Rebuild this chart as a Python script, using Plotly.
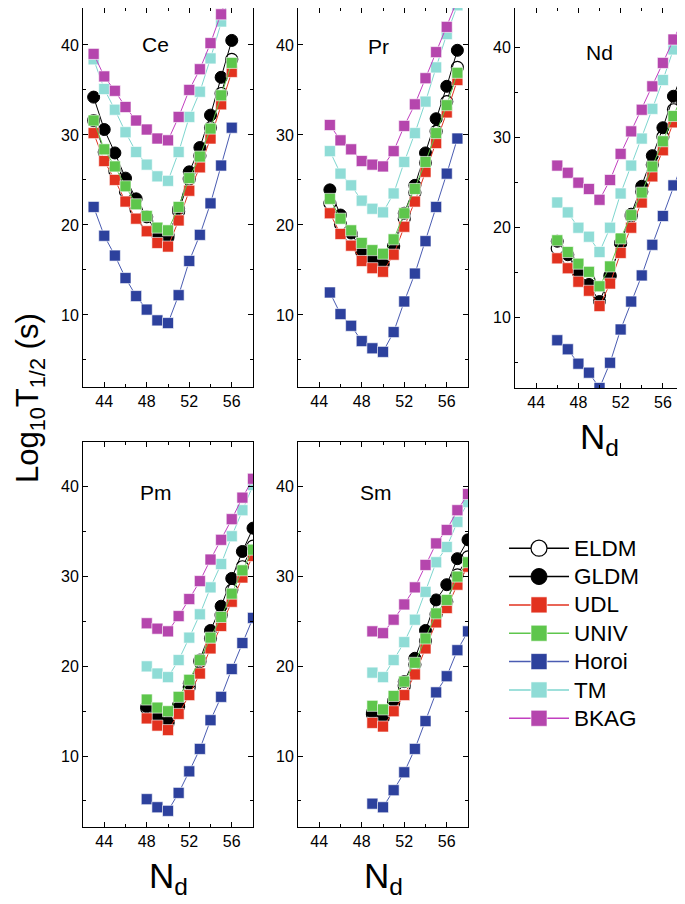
import plotly.graph_objects as go

# neutron numbers of the daughter nucleus for each emitter
n_ce = [43, 44, 45, 46, 47, 48, 49, 50, 51, 52, 53, 54, 55, 56]
n_pr = [45, 46, 47, 48, 49, 50, 51, 52, 53, 54, 55, 56, 57]
n_nd = [46, 47, 48, 49, 50, 51, 52, 53, 54, 55, 56, 57, 58]
n_pm = [48, 49, 50, 51, 52, 53, 54, 55, 56, 57, 58]
n_sm = [49, 50, 51, 52, 53, 54, 55, 56, 57, 58]

# log10 T1/2 (s)
ce_eldm = [31.6, 28.1, 26.0, 23.7, 21.7, 20.3, 19.0, 18.9, 21.5, 25.1, 27.7, 30.8, 34.6, 38.4]
ce_gldm = [34.2, 30.6, 28.0, 25.2, 22.9, 20.9, 19.1, 18.6, 21.8, 25.9, 28.6, 32.2, 36.4, 40.5]
ce_udl = [30.2, 27.1, 25.0, 22.6, 20.7, 19.3, 18.0, 17.6, 20.5, 23.8, 26.4, 29.6, 33.4, 37.0]
ce_univ = [31.6, 28.4, 26.5, 24.3, 22.3, 21.0, 19.7, 19.4, 22.0, 25.2, 27.6, 30.7, 34.4, 38.0]
ce_horoi = [22.0, 18.8, 16.6, 14.1, 12.1, 10.6, 9.4, 9.1, 12.2, 16.0, 18.9, 22.4, 26.6, 30.8]
ce_tm = [38.4, 35.1, 32.8, 30.3, 28.1, 26.7, 25.4, 24.9, 28.1, 32.0, 34.8, 38.5, 42.6, 46.4]
ce_bkag = [39.0, 36.5, 34.9, 33.1, 31.6, 30.6, 29.6, 29.4, 32.0, 35.0, 37.3, 40.2, 43.4, 46.8]

pr_eldm = [22.4, 20.1, 18.7, 17.0, 16.2, 15.7, 17.6, 20.7, 23.6, 26.9, 30.4, 33.7, 37.5]
pr_gldm = [23.9, 21.1, 19.1, 17.2, 16.2, 15.6, 17.7, 21.3, 24.4, 28.0, 31.8, 35.4, 39.4]
pr_udl = [21.3, 19.0, 17.7, 16.0, 15.2, 14.8, 16.7, 19.8, 22.6, 25.9, 29.1, 32.5, 36.1]
pr_univ = [22.9, 20.7, 19.4, 18.0, 17.2, 16.8, 18.4, 21.3, 24.0, 27.0, 30.2, 33.3, 36.9]
pr_horoi = [12.5, 10.1, 8.8, 7.1, 6.3, 5.9, 8.1, 11.5, 14.6, 18.2, 22.0, 25.7, 29.6]
pr_tm = [28.2, 25.7, 24.4, 22.7, 21.8, 21.4, 23.5, 27.0, 30.2, 33.7, 37.5, 41.2, 44.4]
pr_bkag = [31.1, 29.4, 28.4, 27.1, 26.7, 26.5, 28.2, 31.0, 33.4, 36.3, 39.2, 42.0, 45.0]

nd_eldm = [17.7, 16.6, 15.1, 14.2, 12.5, 14.7, 18.3, 21.3, 24.0, 27.0, 30.1, 33.1, 35.7]
nd_gldm = [18.5, 17.0, 15.0, 13.7, 11.8, 14.6, 18.3, 21.5, 24.6, 28.0, 31.1, 34.6, 37.6]
nd_udl = [16.6, 15.5, 14.0, 13.0, 11.3, 13.8, 17.2, 20.0, 22.8, 25.7, 28.6, 31.7, 34.3]
nd_univ = [18.6, 17.3, 16.0, 15.1, 13.5, 15.7, 18.8, 21.4, 23.9, 26.8, 29.6, 32.4, 35.2]
nd_horoi = [7.5, 6.5, 4.9, 3.9, 2.2, 5.0, 8.7, 11.8, 14.7, 18.1, 21.3, 24.7, 27.7]
nd_tm = [22.8, 21.7, 20.0, 19.0, 17.3, 20.0, 23.8, 26.9, 29.9, 33.2, 36.4, 39.8, 42.8]
nd_bkag = [26.9, 26.1, 25.0, 24.3, 23.1, 25.3, 28.2, 30.7, 33.1, 35.7, 38.3, 40.9, 43.3]

pm_eldm = [15.3, 14.2, 13.7, 15.5, 17.7, 20.5, 23.1, 25.7, 28.5, 31.1, 33.4]
pm_gldm = [15.5, 14.4, 13.8, 15.7, 18.1, 20.7, 24.0, 26.7, 29.8, 32.8, 35.4]
pm_udl = [14.2, 13.4, 12.9, 14.7, 16.8, 19.2, 22.0, 24.5, 27.2, 29.9, 32.3]
pm_univ = [16.3, 15.4, 15.0, 16.6, 18.5, 20.7, 23.2, 25.5, 28.1, 30.7, 33.0]
pm_horoi = [5.2, 4.3, 3.9, 5.9, 8.3, 10.8, 14.0, 16.6, 19.7, 22.6, 25.4]
pm_tm = [20.0, 19.2, 18.8, 20.7, 23.2, 25.8, 28.8, 31.4, 34.5, 37.4, 40.2]
pm_bkag = [24.8, 24.2, 23.9, 25.6, 27.5, 29.5, 31.9, 34.1, 36.4, 38.8, 40.9]

sm_eldm = [14.7, 14.2, 15.9, 17.8, 20.2, 22.8, 25.8, 27.2, 30.2, 32.2]
sm_gldm = [14.9, 14.4, 16.2, 18.3, 20.9, 24.0, 27.4, 29.1, 32.0, 34.1]
sm_udl = [13.7, 13.3, 15.0, 16.8, 19.1, 22.0, 24.9, 26.5, 29.1, 31.1]
sm_univ = [15.6, 15.2, 16.7, 18.3, 20.4, 23.1, 25.9, 27.4, 30.0, 31.6]
sm_horoi = [4.7, 4.3, 6.2, 8.2, 10.8, 13.9, 17.1, 18.9, 21.8, 23.9]
sm_tm = [19.3, 18.8, 20.7, 22.7, 25.2, 28.3, 31.6, 33.3, 36.1, 38.3]
sm_bkag = [23.9, 23.7, 25.2, 26.9, 28.8, 31.3, 33.7, 35.2, 37.4, 39.2]

models = ["ELDM", "GLDM", "UDL", "UNIV", "Horoi", "TM", "BKAG"]
x_ticks = [44, 48, 52, 56]

panels = [
    ("Ce", n_ce, [ce_eldm, ce_gldm, ce_udl, ce_univ, ce_horoi, ce_tm, ce_bkag]),
    ("Pr", n_pr, [pr_eldm, pr_gldm, pr_udl, pr_univ, pr_horoi, pr_tm, pr_bkag]),
    ("Nd", n_nd, [nd_eldm, nd_gldm, nd_udl, nd_univ, nd_horoi, nd_tm, nd_bkag]),
    ("Pm", n_pm, [pm_eldm, pm_gldm, pm_udl, pm_univ, pm_horoi, pm_tm, pm_bkag]),
    ("Sm", n_sm, [sm_eldm, sm_gldm, sm_udl, sm_univ, sm_horoi, sm_tm, sm_bkag]),
]

# marker / line style per model
styles = {
    "ELDM": dict(symbol="circle", fill="white", edge="black", ew=1.2, size=12, line="black"),
    "GLDM": dict(symbol="circle", fill="black", edge="black", ew=1, size=12, line="black"),
    "UDL": dict(symbol="square", fill="#e2321f", edge="rgba(255,255,255,0.6)", ew=1, size=11, line="#e2321f"),
    "UNIV": dict(symbol="square", fill="#5ec64c", edge="rgba(255,255,255,0.6)", ew=1, size=11, line="#5ec64c"),
    "Horoi": dict(symbol="square", fill="#2d419d", edge="rgba(255,255,255,0.6)", ew=1, size=11, line="#4a5cb2"),
    "TM": dict(symbol="square", fill="#8fdcd6", edge="rgba(255,255,255,0.6)", ew=1, size=11, line="#7ed6cf"),
    "BKAG": dict(symbol="square", fill="#b546ad", edge="rgba(255,255,255,0.6)", ew=1, size=11, line="#c23fc0"),
}

FONT = "Arial, Liberation Sans, sans-serif"
PAGE_PAD = 8          # default body margin of the html page
W, H = 685 - PAGE_PAD, 904 - PAGE_PAD


def px(xp):
    return (xp - PAGE_PAD) / W


def py(yp):
    return 1 - (yp - PAGE_PAD) / H


# panel frames in window pixels (left, right, top, bottom) and y ranges
frames = [
    (83, 253, 8, 387),
    (298, 468, 8, 387),
    (515, 684, 8, 388),
    (83, 253, 442, 827),
    (298, 468, 442, 827),
]
y_ranges = [(2.0, 44.1), (2.0, 44.1), (2.2, 44.4), (2.1, 45.0), (2.1, 45.0)]
label_pos = [(48.8, 40.1), (49.6, 39.8), (50.0, 39.5), (48.9, 39.4), (49.3, 39.4)]

fig = go.Figure()
layout = {}
annotations = []

for i, (label, ns, series) in enumerate(panels):
    k = "" if i == 0 else str(i + 1)
    for name, ys in zip(models, series):
        st = styles[name]
        fig.add_trace(go.Scatter(
            x=ns, y=ys, xaxis="x" + k, yaxis="y" + k,
            mode="lines+markers",
            line=dict(color=st["line"], width=1),
            marker=dict(symbol=st["symbol"], size=st["size"], color=st["fill"],
                        line=dict(color=st["edge"], width=st["ew"])),
            showlegend=False, hoverinfo="skip",
        ))
    l, r, t, b = frames[i]
    axis_common = dict(showline=True, linecolor="black", linewidth=1, mirror="ticks",
                       ticks="inside", ticklen=5, tickcolor="black", showgrid=False,
                       zeroline=False, tickfont=dict(family=FONT, size=16, color="black"))
    layout["xaxis" + k] = dict(axis_common, domain=[px(l), px(r)], range=[42, 58],
                               tickvals=x_ticks, anchor="y" + k,
                               minor=dict(dtick=2, tick0=42, ticks="inside", ticklen=3,
                                          tickcolor="black"))
    layout["yaxis" + k] = dict(axis_common, domain=[py(b), py(t)], range=list(y_ranges[i]),
                               tickvals=[10, 20, 30, 40], anchor="x" + k,
                               minor=dict(dtick=5, tick0=0, ticks="inside", ticklen=3,
                                          tickcolor="black"))
    lx, ly = label_pos[i]
    annotations.append(dict(text=label, x=lx, y=ly, xref="x" + k, yref="y" + k,
                            showarrow=False, xanchor="center", yanchor="middle",
                            font=dict(family=FONT, size=21, color="black")))
    if i >= 2:
        annotations.append(dict(text="N<sub>d</sub>", x=px((l + r) / 2), y=py(b + 51),
                                xref="paper", yref="paper", showarrow=False,
                                xanchor="center", yanchor="middle",
                                font=dict(family=FONT, size=35, color="black")))

annotations.append(dict(text="Log<sub>10</sub>T<sub>1/2</sub> (s)", x=0, y=py(398),
                        xref="paper", yref="paper", showarrow=False, textangle=-90,
                        xanchor="left", yanchor="middle",
                        font=dict(family=FONT, size=31, color="black")))

# legend entries (row spacing follows the legend font, the names are drawn a bit larger)
for name in models:
    st = styles[name]
    fig.add_trace(go.Scatter(
        x=[None], y=[None], name="<span style='font-size:22.5px'>%s</span>" % name,
        mode="lines+markers",
        line=dict(color=st["line"], width=1.5),
        marker=dict(symbol=st["symbol"], size=16, color=st["fill"],
                    line=dict(color=st["edge"], width=st["ew"])),
        legendgroup=name,
    ))

fig.update_layout(
    width=W, height=H,
    margin=dict(l=0, r=0, t=0, b=0),
    paper_bgcolor="white", plot_bgcolor="white",
    annotations=annotations,
    legend=dict(x=px(504), y=py(529), xanchor="left", yanchor="top",
                font=dict(family=FONT, size=19.5, color="black"),
                itemwidth=60, tracegroupgap=0, bgcolor="rgba(0,0,0,0)"),
    **layout,
)

fig.write_html("out.html")
